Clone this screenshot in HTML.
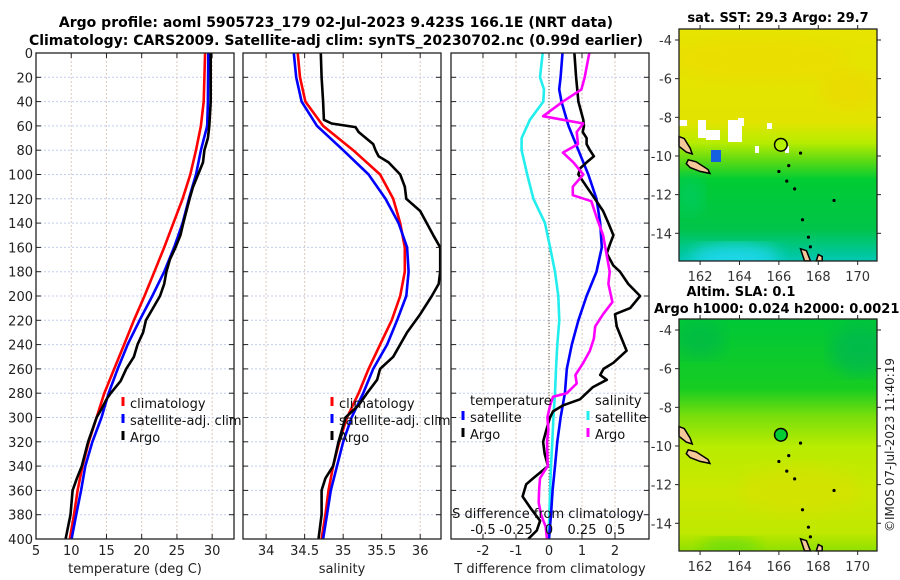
<!DOCTYPE html>
<html><head><meta charset="utf-8">
<style>
html,body{margin:0;padding:0;background:#fff;}
svg{display:block;font-family:"DejaVu Sans","Liberation Sans",sans-serif;}
</style></head>
<body>
<svg id="fig" width="900" height="580" viewBox="0 0 900 580" xmlns="http://www.w3.org/2000/svg">
<defs>
<linearGradient id="sstg" x1="0" y1="0" x2="0" y2="1">
<stop offset="0" stop-color="#e6e400"/><stop offset="0.4" stop-color="#e2e400"/>
<stop offset="0.49" stop-color="#b8ec00"/><stop offset="0.56" stop-color="#66dc11"/>
<stop offset="0.65" stop-color="#00cc33"/><stop offset="0.86" stop-color="#00c448"/>
<stop offset="1" stop-color="#00c8b4"/></linearGradient>
<linearGradient id="slag" x1="0" y1="0" x2="0" y2="1">
<stop offset="0" stop-color="#00c838"/><stop offset="0.3" stop-color="#16cc22"/>
<stop offset="0.42" stop-color="#7ade0c"/><stop offset="0.55" stop-color="#b8ec00"/>
<stop offset="0.75" stop-color="#cce800"/><stop offset="0.92" stop-color="#c0e800"/>
<stop offset="1" stop-color="#8ee000"/></linearGradient>
<filter id="blur"><feGaussianBlur stdDeviation="8"/></filter>
<clipPath id="c1"><rect x="679" y="29" width="198" height="232"/></clipPath>
<clipPath id="c2"><rect x="679" y="319" width="198" height="232"/></clipPath>
</defs>
<g id="titles" font-weight="bold" font-size="13" fill="#000">
<text x="336" y="27" text-anchor="middle" font-size="14">Argo profile: aoml 5905723_179 02-Jul-2023 9.423S 166.1E (NRT data)</text>
<text x="336" y="45" text-anchor="middle" font-size="14">Climatology: CARS2009. Satellite-adj clim: synTS_20230702.nc (0.99d earlier)</text>
<text x="778" y="22" text-anchor="middle">sat. SST: 29.3 Argo: 29.7</text>
<text x="741" y="296" text-anchor="middle">Altim. SLA: 0.1</text>
<text x="654" y="313">Argo h1000: 0.024 h2000: 0.0021</text>
</g>
<g id="plots"></g>
<g id="maps">
<g clip-path="url(#c1)">
<rect x="679" y="29" width="198" height="232" fill="url(#sstg)"/>
<ellipse cx="760" cy="60" rx="90" ry="22" fill="#f0d800" opacity="0.5" filter="url(#blur)"/>
<ellipse cx="850" cy="90" rx="30" ry="20" fill="#f0d400" opacity="0.5" filter="url(#blur)"/>
<ellipse cx="735" cy="258" rx="45" ry="14" fill="#20d8f0" opacity="0.9" filter="url(#blur)"/>
<ellipse cx="690" cy="195" rx="14" ry="20" fill="#00cc66" opacity="0.7" filter="url(#blur)"/>
<rect x="679" y="120" width="8" height="6" fill="#fff"/><rect x="698" y="120" width="8" height="18" fill="#fff"/>
<rect x="706" y="130" width="14" height="10" fill="#fff"/><rect x="728" y="120" width="14" height="22" fill="#fff"/>
<rect x="738" y="118" width="6" height="8" fill="#fff"/><rect x="767" y="123" width="5" height="6" fill="#fff"/>
<rect x="755" y="146" width="4" height="7" fill="#fff"/><rect x="785" y="146" width="4" height="7" fill="#fff"/>
<rect x="711" y="150" width="10" height="12" fill="#1560e0"/>
</g>
<g clip-path="url(#c2)">
<rect x="679" y="319" width="198" height="232" fill="url(#slag)"/>
<ellipse cx="860" cy="350" rx="30" ry="25" fill="#00b850" opacity="0.8" filter="url(#blur)"/>
<ellipse cx="700" cy="340" rx="25" ry="18" fill="#00b848" opacity="0.7" filter="url(#blur)"/>
<ellipse cx="800" cy="490" rx="60" ry="25" fill="#d8e000" opacity="0.6" filter="url(#blur)"/>
<ellipse cx="730" cy="548" rx="30" ry="10" fill="#66dd11" opacity="0.8" filter="url(#blur)"/>
</g>
</g>
<text transform="translate(894,445) rotate(-90)" text-anchor="middle" font-size="12" fill="#222">©IMOS 07-Jul-2023 11:40:19</text>
</svg>
<script>
// ---- data: depth (m) ----
var tClimDepth=[0,40,60,80,100,120,140,160,180,200,220,240,260,280,300,320,340,360,380,400];
var tClimVal=[29.0,28.8,28.4,27.7,26.9,25.8,24.5,23.2,21.8,20.4,18.9,17.5,16.1,14.7,13.6,12.5,11.6,10.9,10.4,9.8];
var tSatDepth=[0,40,60,80,100,120,140,160,180,200,220,240,260,280,300,320,340,360,380,400];
var tSatVal=[29.45,29.4,29.3,28.4,27.7,26.7,25.8,24.6,23.2,21.5,19.7,18.0,16.6,15.3,14.3,13.0,12.0,11.4,10.7,10.05];
var tArgoDepth=[0,40,60,70,80,90,100,110,120,140,150,160,170,180,190,200,210,220,230,240,250,260,270,280,285,293,300,320,340,350,360,380,400];
var tArgoVal=[29.8,29.8,29.6,29.4,28.9,28.7,28.0,27.3,26.8,25.9,25.5,24.8,24.0,23.5,23.2,22.6,21.6,20.6,20.2,19.4,18.9,17.8,17.0,15.6,15.0,14.3,13.6,12.4,11.5,10.8,10.2,9.9,9.2];
var sClimDepth=[0,20,40,60,80,100,120,140,160,180,200,220,240,260,280,300,320,340,360,380,400];
var sClimVal=[34.41,34.44,34.51,34.74,35.13,35.48,35.65,35.74,35.80,35.80,35.74,35.63,35.48,35.33,35.2,35.05,34.95,34.87,34.81,34.77,34.72];
var sSatDepth=[0,20,40,60,80,100,120,140,160,180,200,220,240,260,280,300,320,340,360,380,400];
var sSatVal=[34.36,34.39,34.46,34.66,35.0,35.33,35.55,35.72,35.83,35.85,35.82,35.70,35.57,35.39,35.26,35.11,35.0,34.92,34.84,34.79,34.74];
var sArgoDepth=[0,20,40,55,58,61,65,75,80,85,90,100,110,120,130,150,160,180,190,200,215,230,250,260,269,280,290,300,320,340,350,360,380,400];
var sArgoVal=[34.71,34.72,34.74,34.75,34.85,35.16,35.2,35.39,35.42,35.46,35.59,35.74,35.80,35.82,36.0,36.17,36.26,36.26,36.24,36.15,36.0,35.83,35.65,35.48,35.44,35.31,35.2,35.03,34.94,34.87,34.77,34.72,34.72,34.68];
var dTSatDepth=[0,20,30,40,60,80,100,120,140,160,180,200,220,240,260,280,300,320,340,360,380,400];
var dTSatVal=[0.41,0.35,0.31,0.38,0.59,0.89,1.19,1.44,1.55,1.6,1.44,1.14,0.89,0.69,0.54,0.48,0.35,0.25,0.18,0.11,0.06,0.0];
var dTArgoDepth=[0,20,40,55,60,65,70,75,80,85,90,95,100,110,120,130,140,150,157,165,175,180,190,200,210,215,225,235,245,255,260,265,269,275,285,290,295,300,310,320,330,340,350,355,365,375,385,393,400];
var dTArgoVal=[0.77,0.82,0.89,1.04,1.06,1.02,1.14,1.14,1.24,1.36,1.14,0.94,0.89,1.14,1.39,1.64,1.8,1.95,1.85,1.75,1.95,2.15,2.4,2.76,2.46,2.0,2.05,2.2,2.35,1.95,1.65,1.55,1.75,1.33,0.94,0.43,0.12,0.03,-0.08,-0.18,-0.13,-0.03,-0.48,-0.69,-0.8,-0.55,-0.27,-0.37,-0.63];
var dSSatDepth=[0,20,30,40,55,70,80,100,120,140,160,180,200,220,240,260,280,300,320,340,360,380,400];
var dSSatVal=[-0.048,-0.068,-0.038,-0.043,-0.145,-0.208,-0.208,-0.165,-0.118,-0.03,0.008,0.045,0.07,0.078,0.063,0.053,0.045,0.033,0.025,0.015,0.008,0.003,-0.005];
var dSArgoDepth=[0,20,30,40,52,58,65,75,82,90,100,110,117,122,135,150,165,180,190,205,215,225,235,245,255,265,272,280,283,290,300,310,320,340,345,350,360,370,380,390,400];
var dSArgoVal=[0.305,0.27,0.245,0.105,-0.045,0.26,0.21,0.22,0.105,0.185,0.26,0.18,0.18,0.32,0.36,0.41,0.435,0.46,0.45,0.48,0.41,0.35,0.34,0.31,0.26,0.2,0.21,0.135,0.03,0.008,-0.012,-0.005,-0.015,-0.01,-0.04,-0.068,-0.075,-0.078,-0.06,-0.025,-0.015];
var depthTicks=[0,20,40,60,80,100,120,140,160,180,200,220,240,260,280,300,320,340,360,380,400];
var tTicks=[5,10,15,20,25,30];
var sTicks=[34,34.5,35,35.5,36];
var dTTicks=[-2,-1,0,1,2];
var dSTicks=[-0.5,-0.25,0,0.25,0.5];

var NS='http://www.w3.org/2000/svg';
var plots=document.getElementById('plots');
var Y0=53,Y1=539;
function yOf(d){return Y0+(d/400)*(Y1-Y0);}
function mk(tag,attrs,parent){var e=document.createElementNS(NS,tag);for(var k in attrs)e.setAttribute(k,attrs[k]);(parent||plots).appendChild(e);return e;}
function fmt(v){return String(v);}
var panels=[
 {x0:36,x1:234,lo:5,hi:33.1,ticks:tTicks,name:'temperature-panel',label:'temperature (deg C)'},
 {x0:243,x1:441,lo:33.7,hi:36.27,ticks:sTicks,name:'salinity-panel',label:'salinity'},
 {x0:451,x1:649,lo:-2.97,hi:3.03,ticks:dTTicks,name:'difference-panel',label:'T difference from climatology'}
];
function xFn(p){return function(v){return p.x0+(v-p.lo)/(p.hi-p.lo)*(p.x1-p.x0);};}
panels.forEach(function(p,i){
 var g=mk('g',{});
 
 
 var xf=xFn(p);
 p.g=g;p.xf=xf;
 depthTicks.forEach(function(d){
  var l=mk('line',{x1:p.x0,x2:p.x1,y1:yOf(d),y2:yOf(d),stroke:'#c4cdf0','stroke-width':1,'stroke-dasharray':'2,2'},g);
  
  
  mk('line',{x1:p.x0,x2:p.x0+5,y1:yOf(d),y2:yOf(d),stroke:'#222'},g);
  mk('line',{x1:p.x1-5,x2:p.x1,y1:yOf(d),y2:yOf(d),stroke:'#222'},g);
  if(i===0){var t=mk('text',{x:p.x0-3,y:yOf(d)+5,'text-anchor':'end','font-size':13,fill:'#222'},g);t.textContent=d;
   
   }
 });
 p.ticks.forEach(function(v){
  var x=xf(v);
  var l=mk('line',{x1:x,x2:x,y1:Y0,y2:Y1,stroke:'#dcc8c0','stroke-width':1,'stroke-dasharray':'2,2'},g);
  
  
  mk('line',{x1:x,x2:x,y1:Y1-5,y2:Y1,stroke:'#222'},g);
  mk('line',{x1:x,x2:x,y1:Y0,y2:Y0+5,stroke:'#222'},g);
  var t=mk('text',{x:x,y:555,'text-anchor':'middle','font-size':13,fill:'#222'},g);t.textContent=fmt(v);
  
  
 });
 var xl=mk('text',{x:(p.x0+p.x1)/2,y:573,'text-anchor':'middle','font-size':13,fill:'#222'},g);xl.textContent=p.label;
 
 
});
function line(p,depths,vals,color,name,scale){
 var pts=depths.map(function(d,k){return p.xf(vals[k]*(scale||1)).toFixed(1)+','+yOf(d).toFixed(1);}).join(' ');
 var pl=mk('polyline',{points:pts,fill:'none',stroke:color,'stroke-width':2.6,'stroke-linejoin':'round'},p.g);
 
 
}
var P=panels;
var zl=mk('line',{x1:P[2].xf(0),x2:P[2].xf(0),y1:Y0,y2:Y1,stroke:'#554',"stroke-width":1,'stroke-dasharray':'1,2'},P[2].g);


line(P[0],tClimDepth,tClimVal,'#ff0000','temp-climatology-line');
line(P[0],tSatDepth,tSatVal,'#0000ff','temp-satellite-line');
line(P[0],tArgoDepth,tArgoVal,'#000','temp-argo-line');
line(P[1],sClimDepth,sClimVal,'#ff0000','sal-climatology-line');
line(P[1],sSatDepth,sSatVal,'#0000ff','sal-satellite-line');
line(P[1],sArgoDepth,sArgoVal,'#000','sal-argo-line');
line(P[2],dSSatDepth,dSSatVal,'#22eeee','sdiff-satellite-line',4);
line(P[2],dTSatDepth,dTSatVal,'#0000ff','tdiff-satellite-line');
line(P[2],dTArgoDepth,dTArgoVal,'#000','tdiff-argo-line');
line(P[2],dSArgoDepth,dSArgoVal,'#ff00ff','sdiff-argo-line',4);
dSTicks.forEach(function(v){
 var t=mk('text',{x:P[2].xf(v*4),y:534,'text-anchor':'middle','font-size':13,fill:'#111'},P[2].g);t.textContent=fmt(v);
 
 
});
var st=mk('text',{x:548,y:518,'text-anchor':'middle','font-size':13,fill:'#111'},P[2].g);st.textContent='S difference from climatology';


panels.forEach(function(p){
 var r=mk('rect',{x:p.x0,y:Y0,width:p.x1-p.x0,height:Y1-Y0,fill:'none',stroke:'#222','stroke-width':1.3},p.g);
 
 
});
function legend(g,x,y,color,label){
 mk('line',{x1:x,x2:x,y1:y-11,y2:y-2,stroke:color,'stroke-width':3},g);
 var t=mk('text',{x:x+7,y:y,'font-size':13,fill:'#111'},g);t.textContent=label;
 
 
}
legend(P[0].g,123,408,'#ff0000','climatology');
legend(P[0].g,123,425,'#0000ff','satellite-adj. clim');
legend(P[0].g,123,442,'#000','Argo');
legend(P[1].g,332,408,'#ff0000','climatology');
legend(P[1].g,332,425,'#0000ff','satellite-adj. clim');
legend(P[1].g,332,442,'#000','Argo');
var lt=mk('text',{x:470,y:405,'font-size':13,fill:'#111'},P[2].g);lt.textContent='temperature';


var ls=mk('text',{x:595,y:405,'font-size':13,fill:'#111'},P[2].g);ls.textContent='salinity';


legend(P[2].g,463,422,'#0000ff','satellite');
legend(P[2].g,463,439,'#000','Argo');
legend(P[2].g,588,422,'#22eeee','satellite');
legend(P[2].g,588,439,'#ff00ff','Argo');

// ---- maps ----
var lonTicks=[162,164,166,168,170];
var latTicks=[-4,-6,-8,-10,-12,-14];
var argoLon=166.1, argoLat=-9.42;
var maps=[{y0:29,name:'sst-map-axes',fill:'#b4f000'},{y0:319,name:'sla-map-axes',fill:'#00cc33'}];
var mapsG=document.getElementById('maps');
maps.forEach(function(m){
 var g=mk('g',{},mapsG);
 
 
 function mx(lon){return 679+(lon-160.93)*19.7;}
 function my(lat){return m.y0+11+(-4-lat)*19.33;}
 var poly1=[[160.93,-9.0],[161.2,-9.1],[161.5,-9.6],[161.6,-9.9],[161.3,-9.8],[160.93,-9.5]];
 var poly2=[[161.4,-10.2],[161.8,-10.3],[162.4,-10.7],[162.5,-10.9],[162.0,-10.8],[161.5,-10.6],[161.3,-10.4]];
 var poly3=[[167.3,-15.43],[167.1,-14.8],[167.4,-14.9],[167.6,-15.43]];
 var poly4=[[167.9,-15.43],[168.0,-15.1],[168.2,-15.2],[168.2,-15.43]];
 [poly1,poly2,poly3,poly4].forEach(function(pl){
  var pg=mk('polygon',{points:pl.map(function(q){return mx(q[0]).toFixed(1)+','+my(q[1]).toFixed(1);}).join(' '),fill:'#f5c89a',stroke:'#000','stroke-width':1.5},g);
  
  
 });
 [[166,-10.8],[166.5,-10.5],[166.4,-11.3],[166.8,-11.7],[167.5,-14.2],[167.6,-14.7],[167.2,-13.3],[168.8,-12.3],[167.1,-9.85]].forEach(function(q){
  var c=mk('circle',{cx:mx(q[0]),cy:my(q[1]),r:1.6,fill:'#000'},g);
  
  
 });
 var c=mk('circle',{cx:mx(argoLon),cy:my(argoLat),r:6.3,fill:m.fill,stroke:'#000','stroke-width':1.5},g);
 
 
 var fr=mk('rect',{x:679,y:m.y0,width:198,height:232,fill:'none',stroke:'#222','stroke-width':1.3},g);
 
 
 lonTicks.forEach(function(v){
  mk('line',{x1:mx(v),x2:mx(v),y1:m.y0+232,y2:m.y0+236,stroke:'#222'},g);
  mk('line',{x1:mx(v),x2:mx(v),y1:m.y0,y2:m.y0-4,stroke:'#222'},g);
  var t=mk('text',{x:mx(v),y:m.y0+252,'text-anchor':'middle','font-size':13,fill:'#333'},g);t.textContent=v;
  
  
 });
 latTicks.forEach(function(v){
  mk('line',{x1:675,x2:679,y1:my(v),y2:my(v),stroke:'#222'},g);
  mk('line',{x1:877,x2:881,y1:my(v),y2:my(v),stroke:'#222'},g);
  var t=mk('text',{x:672,y:my(v)+5,'text-anchor':'end','font-size':13,fill:'#333'},g);t.textContent=v;
  
  
 });
});
</script>
</body></html>
